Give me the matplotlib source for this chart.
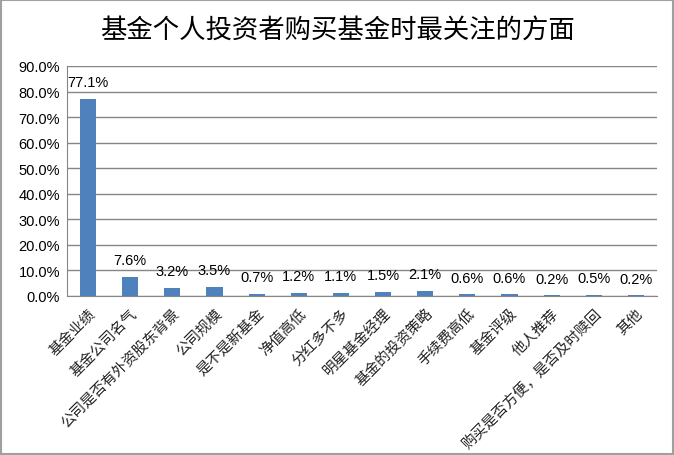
import numpy as np
import matplotlib
matplotlib.use('Agg')
import matplotlib.pyplot as plt

plt.rcParams['font.family'] = ['Noto Sans CJK SC', 'DejaVu Sans']

# data
categories = ['基金业绩', '基金公司名气', '公司是否有外资股东背景', '公司规模',
              '是不是新基金', '净值高低', '分红多不多', '明星基金经理',
              '基金的投资策略', '手续费高低', '基金评级', '他人推荐',
              '购买是否方便，是否及时赎回', '其他']
values = [77.1, 7.6, 3.2, 3.5, 0.7, 1.2, 1.1, 1.5, 2.1, 0.6, 0.6, 0.2, 0.5, 0.2]
yticks = [0, 10, 20, 30, 40, 50, 60, 70, 80, 90]

fig = plt.figure(figsize=(6.74, 4.56), dpi=100)
ax = fig.add_axes([67/674, 1 - 297/456, 590/674, 230/456])

x = np.arange(len(categories))
ax.bar(x, values, width=0.38, color='#4F81BD', zorder=3)

for xi, v in zip(x, values):
    ax.annotate('%.1f%%' % v, (xi, v), xytext=(0, 7), textcoords='offset points',
                ha='center', va='bottom', fontsize=10.5, family='Liberation Sans')

ax.set_xlim(-0.5, len(categories) - 0.5)
ax.set_ylim(0, 90)
ax.set_yticks(yticks)
ax.set_yticklabels(['%.1f%%' % t for t in yticks], family='Liberation Sans', fontsize=10.5)
ax.yaxis.grid(True, color='#868686', linewidth=1, zorder=0)
ax.set_xticks(x)
ax.set_xticklabels(categories, rotation=45, ha='right', rotation_mode='anchor',
                   fontsize=10.5, color='#222222')
ax.tick_params(axis='x', length=0, pad=7)
ax.tick_params(axis='y', length=0, pad=5)
for s in ['top', 'right']:
    ax.spines[s].set_visible(False)
for s in ['left', 'bottom']:
    ax.spines[s].set_color('#868686')

fig.text(0.5, 1 - 30/456, '基金个人投资者购买基金时最关注的方面', ha='center', va='center',
         fontsize=19, fontweight='medium')

# outer frame
fig.patches.append(plt.Rectangle((0.002, 0.002), 0.996, 0.996, transform=fig.transFigure,
                                 fill=False, edgecolor='#a0a0a0', linewidth=1.5))

plt.savefig('out.png', dpi=100)
